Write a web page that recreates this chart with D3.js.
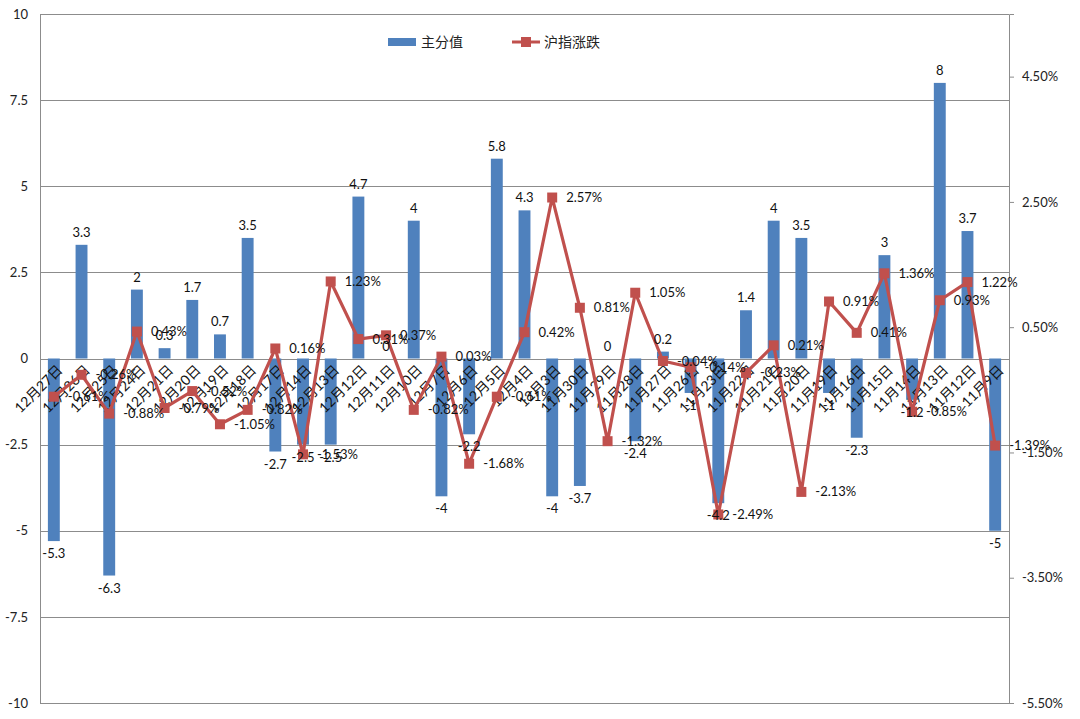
<!DOCTYPE html>
<html><head><meta charset="utf-8">
<script src="https://cdn.jsdelivr.net/npm/d3@7"></script>
<style>
body{margin:0;background:#fff;}
text{font-family:Lato,"Noto Sans CJK SC",sans-serif;}
</style></head>
<body><svg id="c" width="1080" height="719"></svg>
<script>
const categories = ["12月27日","12月26日","12月25日","12月24日","12月21日","12月20日","12月19日","12月18日","12月17日","12月14日","12月13日","12月12日","12月11日","12月10日","12月7日","12月6日","12月5日","12月4日","12月3日","11月30日","11月29日","11月28日","11月27日","11月26日","11月23日","11月22日","11月21日","11月20日","11月19日","11月16日","11月15日","11月14日","11月13日","11月12日","11月9日"];
const scoreValues = [-5.3,3.3,-6.3,2,0.3,1.7,0.7,3.5,-2.7,-2.5,-2.5,4.7,0,4,-4,-2.2,5.8,4.3,-4,-3.7,0,-2.4,0.2,-1,-4.2,1.4,4,3.5,-1,-2.3,3,-1.2,8,3.7,-5];
const indexChange = [-0.61,-0.26,-0.88,0.43,-0.79,-0.52,-1.05,-0.82,0.16,-1.53,1.23,0.31,0.37,-0.82,0.03,-1.68,-0.61,0.42,2.57,0.81,-1.32,1.05,-0.04,-0.14,-2.49,-0.23,0.21,-2.13,0.91,0.41,1.36,-0.85,0.93,1.22,-1.39];
const leftTicks = [-10,-7.5,-5,-2.5,0,2.5,5,7.5,10];
const rightTicks = [-5.5,-3.5,-1.5,0.5,2.5,4.5];
const seriesNames = ["主分值","沪指涨跌"];

const svg = d3.select("#c");
const L=40, R=1009, T=14, B=703;
const x = d3.scaleBand().domain(categories).range([L,R]).paddingInner(0.57).paddingOuter(0.285);
const y = d3.scaleLinear().domain([-10,10]).range([B,T]);
const y2 = d3.scaleLinear().domain([-5.5,5.5]).range([B,T]);
const blue="#4F81BD", red="#C0504D", grid="#8c8c8c";

// gridlines
svg.append("g").selectAll("line").data(leftTicks).join("line")
  .attr("x1",L).attr("x2",R).attr("y1",d=>Math.round(y(d))+0.5).attr("y2",d=>Math.round(y(d))+0.5)
  .attr("stroke",grid).attr("stroke-width",1);

// left axis
const ga = svg.append("g").attr("transform",`translate(${L},0)`)
  .call(d3.axisLeft(y).tickValues(leftTicks).tickSize(0).tickPadding(12).tickFormat(d=>String(d)));
ga.select(".domain").attr("stroke",grid);
ga.selectAll("text").attr("font-size",13).attr("fill","#222");

// right axis
const gr = svg.append("g").attr("transform",`translate(${R},0)`)
  .call(d3.axisRight(y2).tickValues(rightTicks).tickSize(5).tickPadding(8).tickFormat(d=>d.toFixed(2)+"%"));
gr.select(".domain").attr("stroke",grid);
gr.selectAll(".tick line").attr("stroke",grid);
gr.selectAll("text").attr("font-size",13).attr("fill","#222");

// bars
svg.append("g").selectAll("rect").data(scoreValues).join("rect")
  .attr("x",(d,i)=>x(categories[i]))
  .attr("width",x.bandwidth())
  .attr("y",d=>y(Math.max(0,d)))
  .attr("height",d=>Math.abs(y(d)-y(0)))
  .attr("fill",blue);

// category labels
svg.append("g").selectAll("text").data(categories).join("text")
  .attr("transform",(d)=>`translate(${x(d)+x.bandwidth()/2+6},${y(0)+9}) rotate(-45)`)
  .attr("text-anchor","end").attr("dy","0.35em")
  .attr("font-size",14).attr("fill","#111").text(d=>d);

// line
const cx = i=>x(categories[i])+x.bandwidth()/2;
svg.append("path").datum(indexChange)
  .attr("d",d3.line().x((d,i)=>cx(i)).y(d=>y2(d)))
  .attr("fill","none").attr("stroke",red).attr("stroke-width",3.2).attr("stroke-linejoin","round");
svg.append("g").selectAll("rect").data(indexChange).join("rect")
  .attr("x",(d,i)=>cx(i)-5).attr("y",d=>y2(d)-5).attr("width",10).attr("height",10)
  .attr("fill",red);

// bar labels
svg.append("g").selectAll("text").data(scoreValues).join("text")
  .attr("x",(d,i)=>cx(i)).attr("y",d=>d>=0? y(d)-8 : y(d)+17)
  .attr("text-anchor","middle").attr("font-size",13).attr("fill","#111")
  .text(d=>String(d));

// line labels
svg.append("g").selectAll("text").data(indexChange).join("text")
  .attr("x",(d,i)=>cx(i)+14).attr("y",d=>y2(d)).attr("dy","0.35em")
  .attr("font-size",13).attr("fill","#111")
  .text(d=>d.toFixed(2)+"%");

// legend
const lg = svg.append("g");
lg.append("rect").attr("x",388).attr("y",38).attr("width",28).attr("height",8).attr("fill",blue);
lg.append("text").attr("x",421).attr("y",42).attr("dy","0.35em").attr("font-size",14).attr("fill","#222").text(seriesNames[0]);
lg.append("line").attr("x1",512).attr("x2",540).attr("y1",42).attr("y2",42).attr("stroke",red).attr("stroke-width",3);
lg.append("rect").attr("x",521).attr("y",37).attr("width",10).attr("height",10).attr("fill",red);
lg.append("text").attr("x",544).attr("y",42).attr("dy","0.35em").attr("font-size",14).attr("fill","#222").text(seriesNames[1]);
</script></body></html>
